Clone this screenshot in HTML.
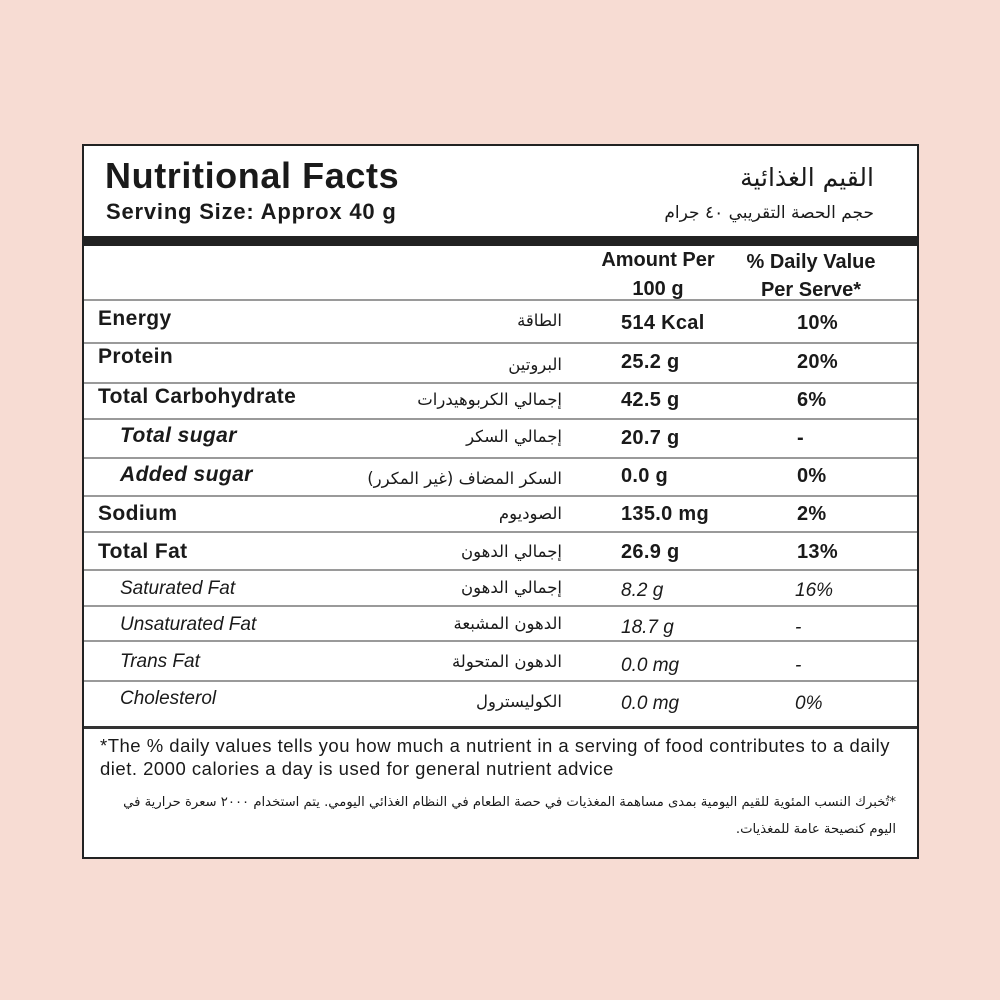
<!DOCTYPE html>
<html><head><meta charset="utf-8"><style>
body{margin:0;width:1000px;height:1000px;background:#f7dcd3;position:relative;font-family:"Liberation Sans","DejaVu Sans",sans-serif;color:#1a1a1a;overflow:hidden}
.box{position:absolute;left:82px;top:144px;width:833px;height:711px;background:#fff;border:2px solid #222}
.a{position:absolute;white-space:nowrap}
.ar{font-family:"DejaVu Sans",sans-serif;direction:rtl;text-align:right}
.hl{position:absolute;left:84px;width:833px;height:2px;background:#9a9a9a}
.b{font-weight:bold}
.i{font-style:italic}
.en{font-size:21px;letter-spacing:0.4px}
.v{font-size:20px;letter-spacing:0.3px}
.ra{font-size:16.5px}
</style></head><body>
<div class="box"></div>
<div class="a b" style="left:105px;top:155px;font-size:36px;letter-spacing:0.6px">Nutritional Facts</div>
<div class="a b" style="left:106px;top:199px;font-size:22px;letter-spacing:0.8px">Serving Size: Approx 40 g</div>
<div class="a ar" style="right:126px;top:163px;font-size:25px">القيم الغذائية</div>
<div class="a ar" style="right:126px;top:203px;font-size:17px">حجم الحصة التقريبي ٤٠ جرام</div>
<div style="position:absolute;left:84px;top:236px;width:833px;height:10px;background:#222"></div>
<div class="a b" style="left:588px;width:140px;text-align:center;top:246px;font-size:20px;line-height:29px">Amount Per<br>100 g</div>
<div class="a b" style="left:734px;width:154px;text-align:center;top:248px;font-size:20px;line-height:28px">% Daily Value<br>Per Serve*</div>
<div class="hl" style="top:299px"></div>
<div class="hl" style="top:342px"></div>
<div class="hl" style="top:382px"></div>
<div class="hl" style="top:418px"></div>
<div class="hl" style="top:457px"></div>
<div class="hl" style="top:495px"></div>
<div class="hl" style="top:531px"></div>
<div class="hl" style="top:569px"></div>
<div class="hl" style="top:605px"></div>
<div class="hl" style="top:640px"></div>
<div class="hl" style="top:680px"></div>
<div style="position:absolute;left:84px;top:726px;width:833px;height:3px;background:#333"></div>

<div class="a b en" style="left:98px;top:307px">Energy</div>
<div class="a ar ra" style="right:438px;top:311px">الطاقة</div>
<div class="a b v" style="left:621px;top:312px">514 Kcal</div>
<div class="a b v" style="left:797px;top:312px">10%</div>

<div class="a b en" style="left:98px;top:345px">Protein</div>
<div class="a ar ra" style="right:438px;top:355px">البروتين</div>
<div class="a b v" style="left:621px;top:351px">25.2 g</div>
<div class="a b v" style="left:797px;top:351px">20%</div>

<div class="a b en" style="left:98px;top:385px">Total Carbohydrate</div>
<div class="a ar ra" style="right:438px;top:390px">إجمالي الكربوهيدرات</div>
<div class="a b v" style="left:621px;top:389px">42.5 g</div>
<div class="a b v" style="left:797px;top:389px">6%</div>

<div class="a b i en" style="left:120px;top:424px">Total sugar</div>
<div class="a ar ra" style="right:438px;top:427px">إجمالي السكر</div>
<div class="a b v" style="left:621px;top:427px">20.7 g</div>
<div class="a b v" style="left:797px;top:427px">-</div>

<div class="a b i en" style="left:120px;top:463px">Added sugar</div>
<div class="a ar ra" style="right:438px;top:469px">السكر المضاف (غير المكرر)</div>
<div class="a b v" style="left:621px;top:465px">0.0 g</div>
<div class="a b v" style="left:797px;top:465px">0%</div>

<div class="a b en" style="left:98px;top:502px">Sodium</div>
<div class="a ar ra" style="right:438px;top:504px">الصوديوم</div>
<div class="a b v" style="left:621px;top:503px">135.0 mg</div>
<div class="a b v" style="left:797px;top:503px">2%</div>

<div class="a b en" style="left:98px;top:540px">Total Fat</div>
<div class="a ar ra" style="right:438px;top:542px">إجمالي الدهون</div>
<div class="a b v" style="left:621px;top:541px">26.9 g</div>
<div class="a b v" style="left:797px;top:541px">13%</div>

<div class="a i" style="left:120px;top:578px;font-size:19px">Saturated Fat</div>
<div class="a ar ra" style="right:438px;top:578px">إجمالي الدهون</div>
<div class="a i" style="left:621px;top:580px;font-size:19px">8.2 g</div>
<div class="a i" style="left:795px;top:580px;font-size:19px">16%</div>

<div class="a i" style="left:120px;top:614px;font-size:19px">Unsaturated Fat</div>
<div class="a ar ra" style="right:438px;top:614px">الدهون المشبعة</div>
<div class="a i" style="left:621px;top:617px;font-size:19px">18.7 g</div>
<div class="a i" style="left:795px;top:617px;font-size:19px">-</div>

<div class="a i" style="left:120px;top:651px;font-size:19px">Trans Fat</div>
<div class="a ar ra" style="right:438px;top:652px">الدهون المتحولة</div>
<div class="a i" style="left:621px;top:655px;font-size:19px">0.0 mg</div>
<div class="a i" style="left:795px;top:655px;font-size:19px">-</div>

<div class="a i" style="left:120px;top:688px;font-size:19px">Cholesterol</div>
<div class="a ar ra" style="right:438px;top:692px">الكوليسترول</div>
<div class="a i" style="left:621px;top:693px;font-size:19px">0.0 mg</div>
<div class="a i" style="left:795px;top:693px;font-size:19px">0%</div>

<div class="a" style="left:100px;top:734px;font-size:18.5px;letter-spacing:0.5px;line-height:23px">*The % daily values tells you how much a nutrient in a serving of food contributes to a daily<br>diet. 2000 calories a day is used for general nutrient advice</div>
<div class="a ar" style="right:104px;top:789px;font-size:13.2px;line-height:27px">*تُخبرك النسب المئوية للقيم اليومية بمدى مساهمة المغذيات في حصة الطعام في النظام الغذائي اليومي. يتم استخدام ٢٠٠٠ سعرة حرارية في<br>اليوم كنصيحة عامة للمغذيات.</div>
</body></html>
